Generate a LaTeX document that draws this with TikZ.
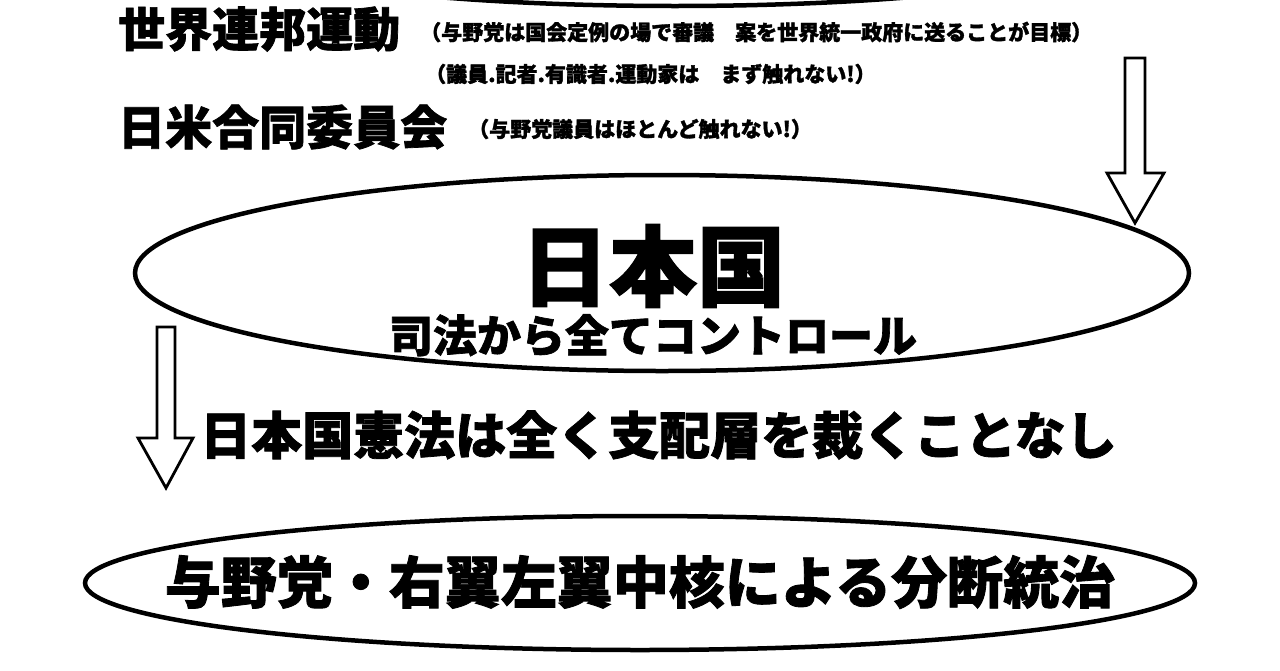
\documentclass[tikz,border=0pt]{standalone}
\usepackage{fontspec}
\newfontfamily\jpfont{Noto Sans CJK JP}[BoldFeatures={FakeBold=1.5}]
\usetikzlibrary{positioning,shapes.geometric}

\begin{document}
\begin{tikzpicture}[x=1pt,y=-1pt,
    oval/.style={ellipse, draw=black, line width=4.5pt, inner sep=0pt},
    head/.style={font=\jpfont\bfseries\fontsize{47}{47}\selectfont, inner sep=0pt},
    note/.style={font=\jpfont\bfseries\fontsize{21}{21}\selectfont, inner sep=0pt},
    blockarrow/.style={draw=black, line width=2.8pt, fill=white, line join=miter}
]
\useasboundingbox[fill=white] (0,0) rectangle (1280,670);

% Ellipses
\node[oval, minimum width=900, minimum height=120] (world) at (675,-54) {};
\node[oval, minimum width=1054, minimum height=196] (japan) at (662,273) {};
\node[oval, minimum width=1110, minimum height=134] (rule) at (640,583) {};

% Top texts
\node[head, anchor=west] (wfm) at (118,29) {世界連邦運動};
\node[note, anchor=west] (wfmnote) at (420,32) {（与野党は国会定例の場で審議　案を世界統一政府に送ることが目標）};
\node[note, anchor=west] (silent) at (425,74) {（議員.記者.有識者.運動家は　まず触れない!）};
\node[head, anchor=west] (jusc) at (118,127) {日米合同委員会};
\node[note, anchor=west] (juscnote) at (468,129) {（与野党議員はほとんど触れない!）};

% Texts in ellipses
\node[font=\jpfont\bfseries\fontsize{88}{88}\selectfont, inner sep=0pt] (nihon) at (653,266) {日本国};
\node[head, font=\jpfont\bfseries\fontsize{44}{44}\selectfont] (control) [below=6pt of nihon] {司法から全てコントロール};
\node[head, font=\jpfont\bfseries\fontsize{56}{56}\selectfont] (divide) at (640,582) {与野党・右翼左翼中核による分断統治};

% Between
\node[head, font=\jpfont\bfseries\fontsize{51}{51}\selectfont, anchor=west] (kenpo) at (200,435) {日本国憲法は全く支配層を裁くことなし};

% Block arrows
\coordinate (rtop) at (1135,58);
\coordinate (ltop) at (166,327);
\draw[blockarrow] (rtop) ++(-10,0) -- ++(20,0) -- ++(0,115) -- ++(19,0)
    -- (1135,223) -- (1107,173) -- (1125,173) -- cycle;
\draw[blockarrow] (ltop) ++(-9,0) -- ++(18,0) -- ++(0,111) -- ++(18,0)
    -- (166,488) -- (138,438) -- (157,438) -- cycle;

\end{tikzpicture}
\end{document}
